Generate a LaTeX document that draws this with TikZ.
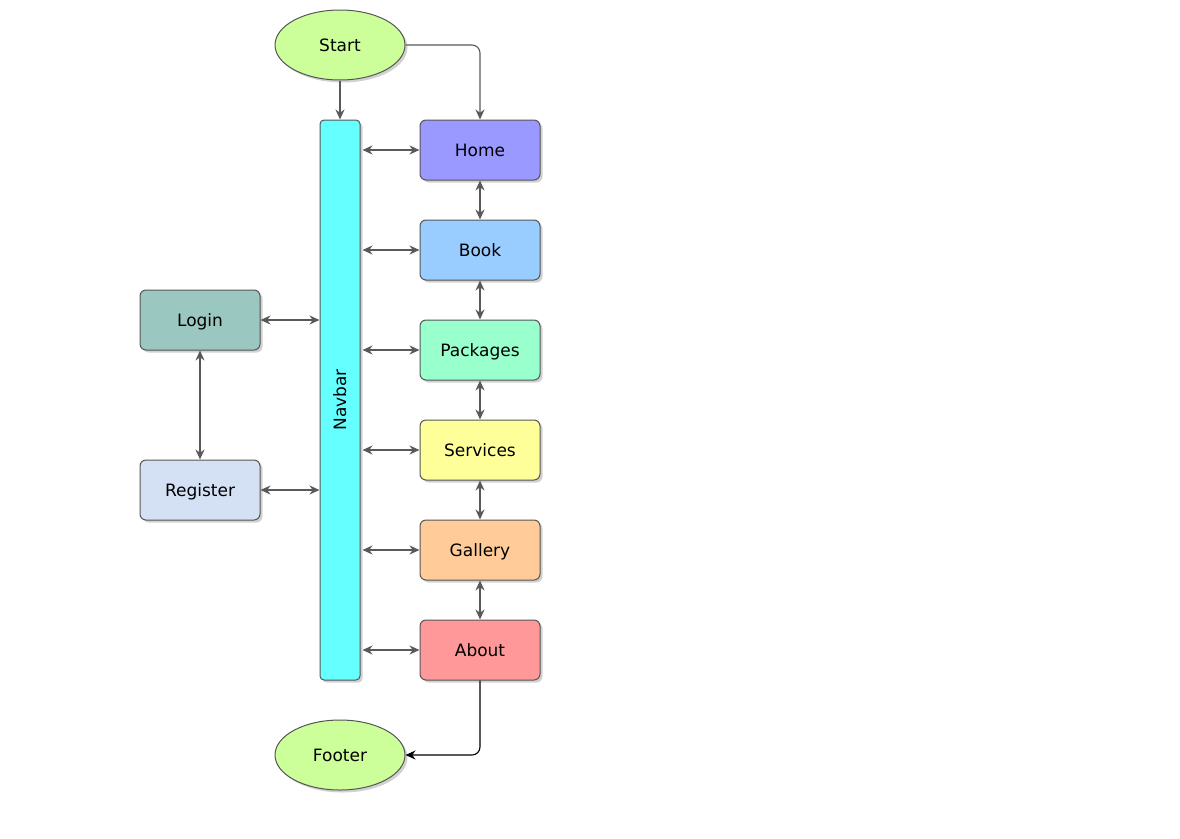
\documentclass[tikz,border=0pt]{standalone}
\usepackage{fontspec}
\setmainfont{DejaVu Sans}
\usetikzlibrary{shapes.geometric,shadows,arrows.meta,calc}
\definecolor{termgreen}{HTML}{CCFF99}
\definecolor{navcyan}{HTML}{66FFFF}
\definecolor{homec}{HTML}{9999FF}
\definecolor{bookc}{HTML}{99CCFF}
\definecolor{packc}{HTML}{99FFCC}
\definecolor{servc}{HTML}{FFFF99}
\definecolor{gallc}{HTML}{FFCC99}
\definecolor{aboutc}{HTML}{FF9999}
\definecolor{loginc}{HTML}{9AC7BF}
\definecolor{regc}{HTML}{D4E1F5}
\definecolor{edge}{HTML}{555555}
\definecolor{linegray}{HTML}{595959}
\begin{document}
\begin{tikzpicture}[x=1pt,y=-1pt,
  shade/.style={drop shadow={shadow xshift=2.5pt,shadow yshift=-2.5pt,opacity=0.3,fill=black!60}},
  txt/.style={font=\fontsize{17}{20}\selectfont, text height=12.4pt, text depth=0pt},
  box/.style={draw=edge, line width=1pt, rounded corners=6pt, minimum width=120pt,
    minimum height=60pt, inner sep=0pt, shade, txt},
  term/.style={ellipse, draw=edge, line width=1pt, fill=termgreen, minimum width=130pt,
    minimum height=70pt, inner sep=0pt, shade, txt},
  link/.style={draw=linegray, line width=1.1pt, {Stealth[length=10pt,width=9pt]}-{Stealth[length=10pt,width=9pt]}},
  flow/.style={draw=linegray, line width=1.1pt, -{Stealth[length=10pt,width=9pt]}},
]
\useasboundingbox (0,0) rectangle (1180,838);

% terminals
\node[term] (start) at (340,45) {Start};
\node[term] (footer) at (340,755) {Footer};

% navigation bar
\node[box, fill=navcyan, minimum width=40pt, minimum height=560pt, rounded corners=4pt] (nav) at (340,400) {};
\node[txt, rotate=90] (navlabel) at (nav.center) {Navbar};

% pages
\node[box, fill=homec]  (home)  at (480,150) {Home};
\node[box, fill=bookc]  (book)  at (480,250) {Book};
\node[box, fill=packc]  (pack)  at (480,350) {Packages};
\node[box, fill=servc]  (serv)  at (480,450) {Services};
\node[box, fill=gallc]  (gall)  at (480,550) {Gallery};
\node[box, fill=aboutc] (about) at (480,650) {About};

% account
\node[box, fill=loginc] (login) at (200,320) {Login};
\node[box, fill=regc]   (reg)   at (200,490) {Register};

% entry flow
\draw[flow] (start.south) -- (nav.north);
\draw[flow, rounded corners=8pt] (start.east) -| (home.north);

% navbar links
\foreach \p in {home,book,pack,serv,gall,about}
  \draw[link, shorten <=2pt] (nav.east |- \p.west) -- (\p.west);
\draw[link] (login.east) -- (nav.west |- login.east);
\draw[link] (reg.east) -- (nav.west |- reg.east);

% page chain
\draw[link] (home.south) -- (book.north);
\draw[link] (book.south) -- (pack.north);
\draw[link] (pack.south) -- (serv.north);
\draw[link] (serv.south) -- (gall.north);
\draw[link] (gall.south) -- (about.north);
\draw[link] (login.south) -- (reg.north);

% exit
\draw[line width=1.1pt, -{Stealth[length=10pt,width=9pt]}, rounded corners=8pt] (about.south) |- (footer.east);
\end{tikzpicture}
\end{document}
